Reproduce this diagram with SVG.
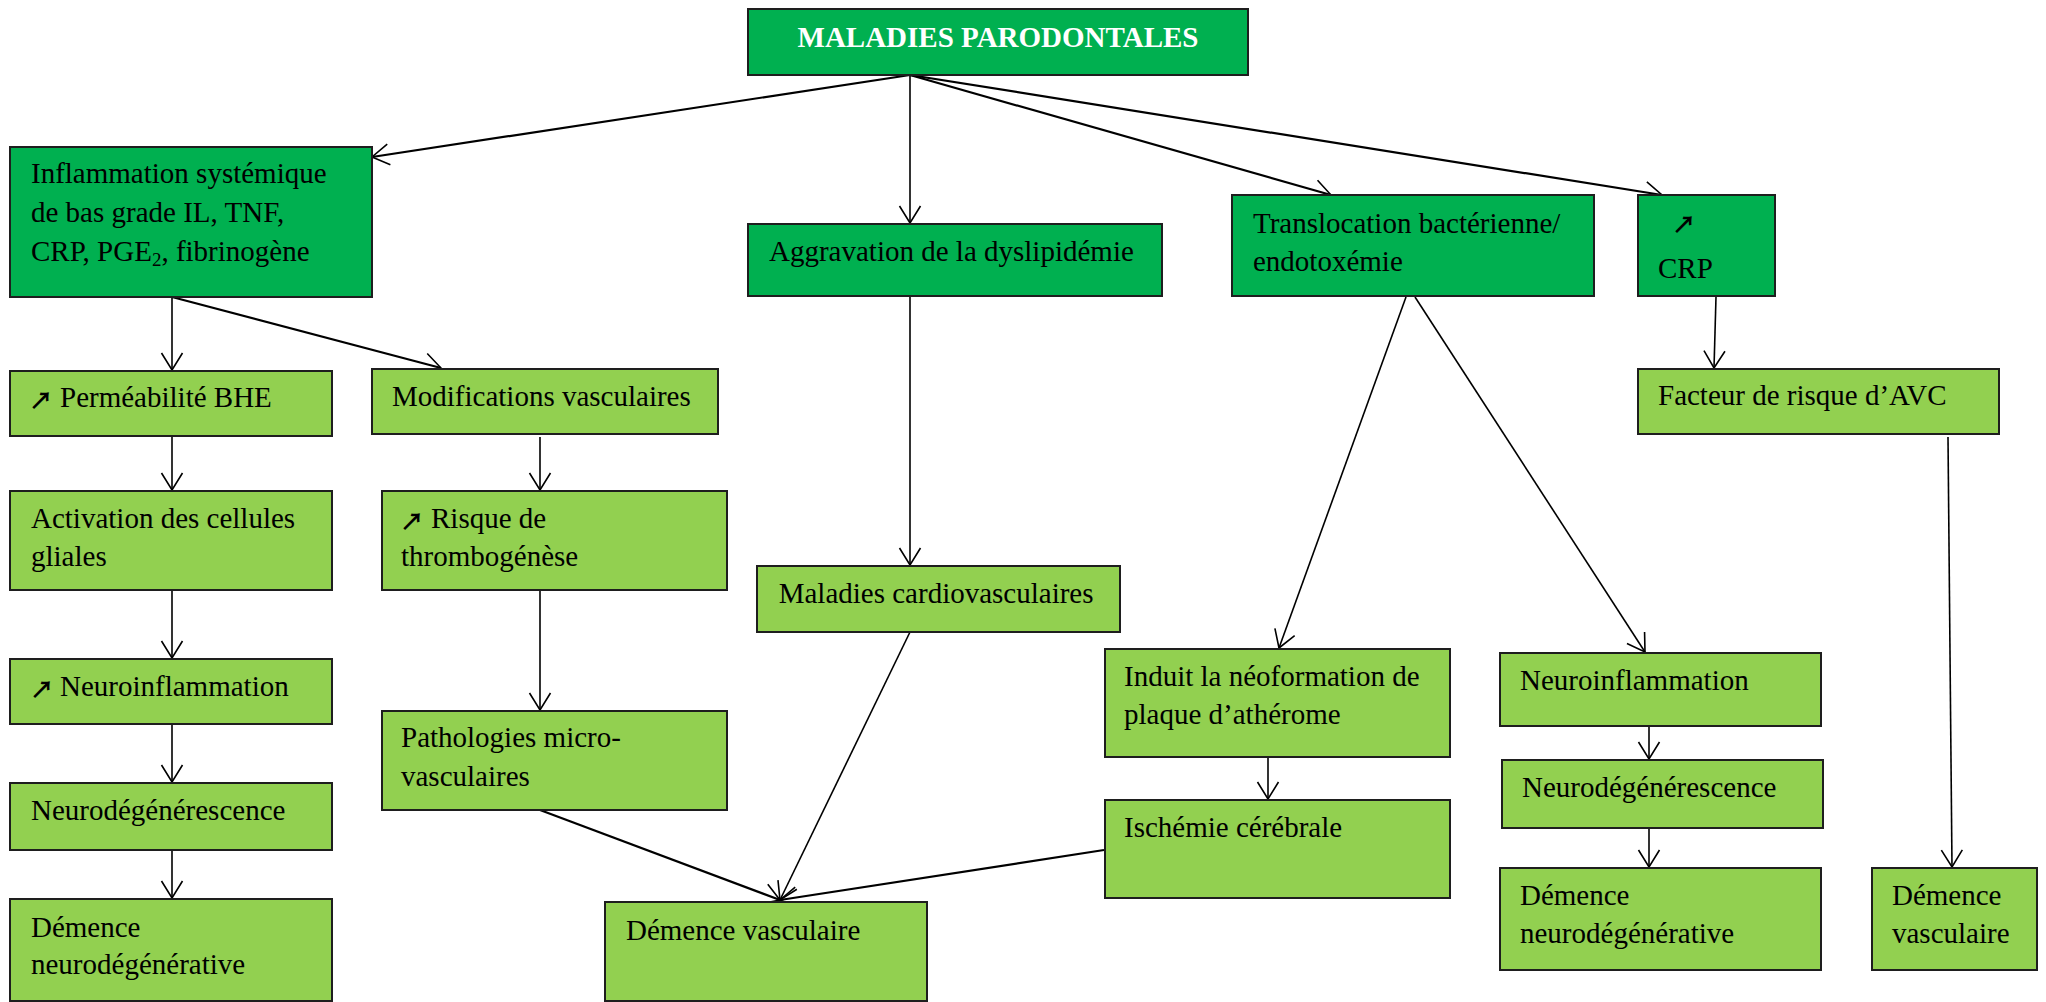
<svg xmlns="http://www.w3.org/2000/svg" width="2046" height="1002" viewBox="0 0 2046 1002">
<style>
  .dark { fill: #00B050; stroke: #1e1e1e; stroke-width: 2; }
  .light { fill: #92D050; stroke: #1e1e1e; stroke-width: 2; }
  text { font-family: "Liberation Serif", "Times New Roman", serif; font-size: 29px; fill: #000; }
  .title { font-weight: bold; fill: #fff; }
  .up { font-family: "Noto Sans CJK JP", "DejaVu Sans", sans-serif; font-weight: bold; font-size: 24px; }
  .sub { font-size: 19px; }
  .c { fill: none; stroke: #000; stroke-width: 1.6; marker-end: url(#ah); }
  .cb { stroke-width: 2.2; }
</style>
<defs>
  <marker id="ah" markerUnits="userSpaceOnUse" markerWidth="26" markerHeight="26" viewBox="-22 -13 26 26" refX="0" refY="0" orient="auto">
    <path d="M-17,-10.5 L0,0 L-17,10.5" fill="none" stroke="#000" stroke-width="1.6"/>
  </marker>
</defs>
<rect width="2046" height="1002" fill="#fff"/>

<g id="connectors">
  <path class="c cb" d="M910,75 L372,157"/>
  <path class="c" d="M910,75 L910,223"/>
  <path class="c cb" d="M910,75 L1331,195"/>
  <path class="c cb" d="M910,75 L1662,195"/>
  <path class="c" d="M172,297 L172,370"/>
  <path class="c cb" d="M172,297 L441,368"/>
  <path class="c" d="M172,436 L172,490"/>
  <path class="c" d="M172,590 L172,658"/>
  <path class="c" d="M172,724 L172,782"/>
  <path class="c" d="M172,850 L172,898"/>
  <path class="c" d="M540,437 L540,490"/>
  <path class="c" d="M540,590 L540,710"/>
  <path class="c cb" d="M540,810 L780,900"/>
  <path class="c" d="M910,632 L780,900"/>
  <path class="c cb" d="M1104,850 L780,900"/>
  <path class="c" d="M910,296 L910,565"/>
  <path class="c" d="M1406,297 L1279,648"/>
  <path class="c" d="M1415,297 L1645,652"/>
  <path class="c" d="M1716,297 L1714,368"/>
  <path class="c" d="M1948,437 L1952,867"/>
  <path class="c" d="M1268,757 L1268,799"/>
  <path class="c" d="M1649,726 L1649,759"/>
  <path class="c" d="M1649,828 L1649,867"/>
</g>

<g id="n_title">
  <rect class="dark" x="748" y="9" width="500" height="66"/>
  <text class="title" x="998" y="46.5" text-anchor="middle">MALADIES PARODONTALES</text>
</g>
<g id="n_inflammation">
  <rect class="dark" x="10" y="147" width="362" height="150"/>
  <text x="31" y="183.3">Inflammation systémique</text>
  <text x="31" y="222.3">de bas grade IL, TNF,</text>
  <text x="31" y="260.7">CRP, PGE<tspan class="sub" dy="5">2</tspan><tspan dy="-5">, fibrinogène</tspan></text>
</g>
<g id="n_aggravation">
  <rect class="dark" x="748" y="224" width="414" height="72"/>
  <text x="769" y="260.7">Aggravation de la dyslipidémie</text>
</g>
<g id="n_translocation">
  <rect class="dark" x="1232" y="195" width="362" height="101"/>
  <text x="1253" y="233.3">Translocation bactérienne/</text>
  <text x="1253" y="271">endotoxémie</text>
</g>
<g id="n_crp">
  <rect class="dark" x="1638" y="195" width="137" height="101"/>
  <text class="up" x="1672" y="233">↗</text>
  <text x="1658" y="278">CRP</text>
</g>
<g id="n_permeabilite">
  <rect class="light" x="10" y="371" width="322" height="65"/>
  <text x="29" y="409"><tspan class="up">↗</tspan><tspan x="60" y="407.3">Perméabilité BHE</tspan></text>
</g>
<g id="n_modifications">
  <rect class="light" x="372" y="369" width="346" height="65"/>
  <text x="392" y="405.5">Modifications vasculaires</text>
</g>
<g id="n_activation">
  <rect class="light" x="10" y="491" width="322" height="99"/>
  <text x="31" y="527.7">Activation des cellules</text>
  <text x="31" y="565.5">gliales</text>
</g>
<g id="n_risque">
  <rect class="light" x="382" y="491" width="345" height="99"/>
  <text x="400" y="530"><tspan class="up">↗</tspan><tspan x="431" y="528">Risque de</tspan></text>
  <text x="401" y="566">thrombogénèse</text>
</g>
<g id="n_cardio">
  <rect class="light" x="757" y="566" width="363" height="66"/>
  <text x="778.7" y="602.7">Maladies cardiovasculaires</text>
</g>
<g id="n_facteur">
  <rect class="light" x="1638" y="369" width="361" height="65"/>
  <text x="1658" y="405">Facteur de risque d’AVC</text>
</g>
<g id="n_induit">
  <rect class="light" x="1105" y="649" width="345" height="108"/>
  <text x="1124" y="685.7">Induit la néoformation de</text>
  <text x="1124" y="724.3">plaque d’athérome</text>
</g>
<g id="n_neuroinflammation_r">
  <rect class="light" x="1500" y="653" width="321" height="73"/>
  <text x="1520" y="690">Neuroinflammation</text>
</g>
<g id="n_neurodegenerescence_r">
  <rect class="light" x="1502" y="760" width="321" height="68"/>
  <text x="1522" y="796.7">Neurodégénérescence</text>
</g>
<g id="n_demence_neuro_r">
  <rect class="light" x="1500" y="868" width="321" height="102"/>
  <text x="1520" y="905">Démence</text>
  <text x="1520" y="943">neurodégénérative</text>
</g>
<g id="n_demence_vasc_r">
  <rect class="light" x="1872" y="868" width="165" height="102"/>
  <text x="1892" y="905">Démence</text>
  <text x="1892" y="943">vasculaire</text>
</g>
<g id="n_ischemie">
  <rect class="light" x="1105" y="800" width="345" height="98"/>
  <text x="1124" y="836.7">Ischémie cérébrale</text>
</g>
<g id="n_neuroinflammation_l">
  <rect class="light" x="10" y="659" width="322" height="65"/>
  <text x="30" y="697.5"><tspan class="up">↗</tspan><tspan x="60" y="695.7">Neuroinflammation</tspan></text>
</g>
<g id="n_neurodegenerescence_l">
  <rect class="light" x="10" y="783" width="322" height="67"/>
  <text x="31" y="820">Neurodégénérescence</text>
</g>
<g id="n_demence_neuro_l">
  <rect class="light" x="10" y="899" width="322" height="102"/>
  <text x="31" y="936.7">Démence</text>
  <text x="31" y="974.3">neurodégénérative</text>
</g>
<g id="n_pathologies">
  <rect class="light" x="382" y="711" width="345" height="99"/>
  <text x="401" y="747.3">Pathologies micro-</text>
  <text x="401" y="786">vasculaires</text>
</g>
<g id="n_demence_vasc">
  <rect class="light" x="605" y="902" width="322" height="99"/>
  <text x="626" y="940">Démence vasculaire</text>
</g>
</svg>
